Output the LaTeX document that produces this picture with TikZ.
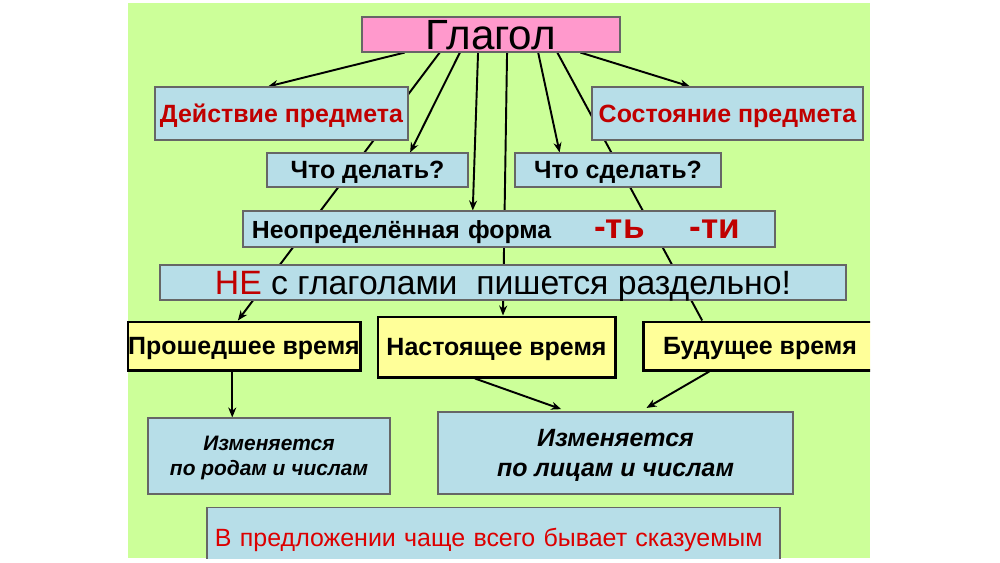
\documentclass[tikz,border=0pt]{standalone}
\usepackage{fontspec}
\setmainfont{Liberation Sans}
\usetikzlibrary{arrows.meta,positioning,calc,backgrounds}

\definecolor{limefill}{RGB}{204,255,153}
\definecolor{skyfill}{RGB}{183,222,232}
\definecolor{rosefill}{RGB}{255,153,204}
\definecolor{tensefill}{RGB}{255,255,153}
\definecolor{wordred}{RGB}{192,0,0}
\definecolor{alertred}{RGB}{220,0,0}

\begin{document}
\begin{tikzpicture}[
    x=0.2mm, y=-0.2mm,
    >={Stealth[length=2mm,width=1.6mm]},
    box/.style={draw=black!60, line width=0.6pt, fill=skyfill, align=center,
                inner sep=0pt, text depth=0pt},
    head/.style={box, fill=rosefill, minimum width=51.6mm, minimum height=7mm,
                 font=\fontsize{24}{26}\selectfont},
    kind/.style={box, minimum width=50.6mm, minimum height=10.6mm, text=wordred,
                 font=\fontsize{14.2}{16}\selectfont\bfseries},
    ask/.style={box, minimum width=40.2mm, minimum height=6.8mm,
                font=\fontsize{14.2}{16}\selectfont\bfseries},
    tense/.style={draw=black, line width=1.7pt, fill=tensefill, inner sep=0pt,
                  text depth=0pt, minimum height=9.6mm,
                  font=\fontsize{14.2}{16}\selectfont\bfseries},
    change/.style={box, font=\bfseries\itshape},
    link/.style={->, line width=1.1pt, draw=black},
    plain/.style={line width=1.1pt, draw=black},
  ]

  \useasboundingbox (0,0) rectangle (1000,562);
  \begin{scope}[on background layer]
    \fill[white] (0,0) rectangle (1000,562);
    \fill[limefill] (128,3) rectangle (870,558);
  \end{scope}

  % top
  \node[head] (glagol) at (491,34.5) {Глагол};

  \node[kind] (dejst) at (281.5,113.5) {Действие предмета};
  \node[kind, minimum width=54.2mm] (sost) at (727.5,113.5) {Состояние предмета};

  \node[ask] (chto) at (367.5,170) {Что делать?};
  \node[ask, minimum width=41.2mm] (chtos) at (618,170) {Что сделать?};

  \node[box, text width=102.8mm, inner xsep=1.8mm, minimum height=7.2mm, align=left,
        font=\fontsize{14.1}{16}\selectfont\bfseries] (neopr) at (509,229)
       {Неопределённая форма\hspace{8.6mm}{\color{wordred}\fontsize{20}{20}\selectfont -ть\hspace{9mm}-ти}};

  \node[box, minimum width=137.2mm, minimum height=7mm,
        font=\fontsize{19.2}{21}\selectfont] (neg) at (503,282.5)
       {{\color{wordred}НЕ} с глаголами\ \ пишется раздельно!};

  % tenses
  \node[tense, minimum width=46.4mm] (prosh) at (244,346) {Прошедшее время};
  \node[tense, minimum width=47.4mm, minimum height=12mm] (nast) at (496.5,347)
       {Настоящее время};
  \begin{scope}
    \clip (128,3) rectangle (870,558);
    \node[tense, minimum width=46.8mm] (bud) at (760,346) {Будущее время};
    \node[box, text width=111.4mm, inner xsep=1.6mm, minimum height=12mm, anchor=north,
          align=left, text=alertred, font=\fontsize{14.2}{16}\selectfont] (pred)
         at (493.5,507) {В предложении чаще всего бывает сказуемым};
  \end{scope}

  \node[change, minimum width=48.4mm, minimum height=15.2mm,
        font=\fontsize{11.9}{14.2}\selectfont\bfseries\itshape] (rodam) at (269,456)
       {Изменяется\\по родам и числам};
  \node[change, minimum width=71mm, minimum height=16.4mm,
        font=\fontsize{14.2}{17}\selectfont\bfseries\itshape] (litsam) at (615.5,453)
       {Изменяется\\по лицам и числам};

  % connectors
  \begin{scope}[on background layer]
    \draw[link] ($(glagol.south west)!0.167!(glagol.south east)$)
             -- ($(dejst.north west)!0.447!(dejst.north east)$);
    \draw[link] ($(glagol.south west)!0.302!(glagol.south east)$)
             -- ($(prosh.north west)!0.474!(prosh.north east)$);
    \draw[link] ($(glagol.south west)!0.38!(glagol.south east)$)
             -- ($(chto.north west)!0.711!(chto.north east)$);
    \draw[link] ($(glagol.south west)!0.45!(glagol.south east)$)
             -- ($(neopr.north west)!0.432!(neopr.north east)$);
    \draw[link] ($(glagol.south west)!0.562!(glagol.south east)$)
             -- ($(nast.north west)!0.527!(nast.north east)$);
    \draw[link] ($(glagol.south west)!0.682!(glagol.south east)$)
             -- ($(chtos.north west)!0.218!(chtos.north east)$);
    \draw[plain] ($(glagol.south west)!0.756!(glagol.south east)$)
             -- ($(bud.north west)!0.256!(bud.north east)$);
    \draw[link] ($(glagol.south west)!0.845!(glagol.south east)$)
             -- ($(sost.north west)!0.362!(sost.north east)$);

    \coordinate (pdown) at ($(prosh.south west)!0.45!(prosh.south east)$);
    \draw[link] (pdown) -- (pdown |- rodam.north);
    \draw[link, shorten >=1.4mm] ($(nast.south west)!0.41!(nast.south east)$)
             -- ($(litsam.north west)!0.366!(litsam.north east)$);
    \draw[link, shorten >=1.4mm] ($(bud.south west)!0.286!(bud.south east)$)
             -- ($(litsam.north west)!0.57!(litsam.north east)$);
  \end{scope}

\end{tikzpicture}
\end{document}
